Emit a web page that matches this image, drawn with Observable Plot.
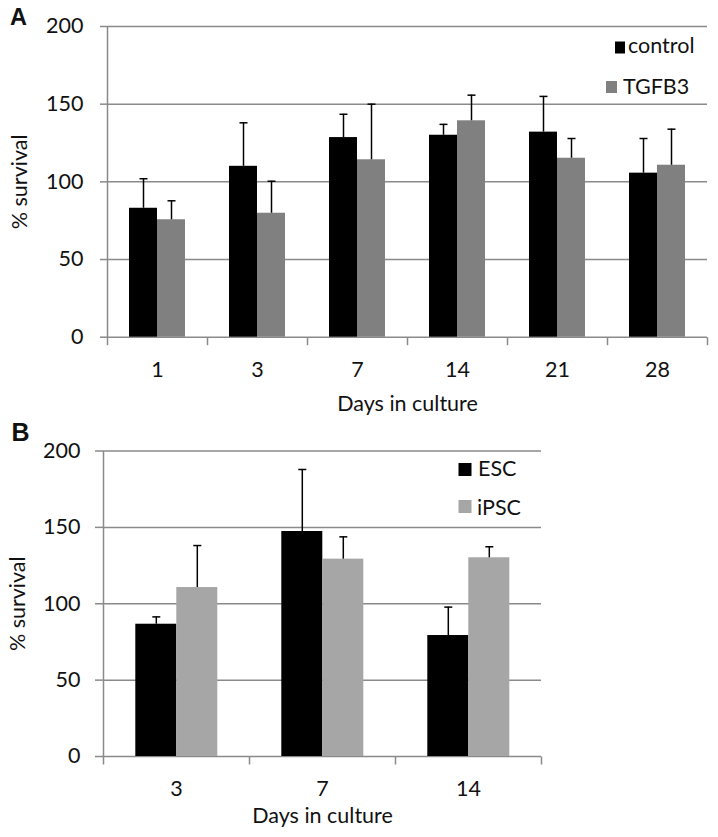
<!DOCTYPE html>
<html>
<head>
<meta charset="utf-8">
<script src="https://cdn.jsdelivr.net/npm/d3@7"></script>
<script src="https://cdn.jsdelivr.net/npm/@observablehq/plot@0.6"></script>
<style>
  html, body { margin: 0; padding: 0; background: #fff; }
  #wrap { position: relative; width: 718px; height: 837px; overflow: hidden; background: #fff; }
  #wrap > div, #wrap > svg { position: absolute; left: 0; }
</style>
</head>
<body>
<div id="wrap">
  <div id="panelA" style="top:0"></div>
  <div id="panelB" style="top:420px"></div>
</div>
<script>
// ---------- data ----------
const daysA = ["1", "3", "7", "14", "21", "28"];
const seriesA = ["control", "TGFB3"];
const controlMean = [83, 110, 128.5, 130, 132, 105.6];
const controlSd   = [19, 28, 15, 7, 23, 22.3];
const tgfb3Mean   = [75.6, 79.8, 114.2, 139.3, 115.2, 110.7];
const tgfb3Sd     = [12.2, 20.6, 35.8, 16.5, 12.7, 23.2];

const daysB = ["3", "7", "14"];
const seriesB = ["ESC", "iPSC"];
const escMean  = [86.6, 147.3, 79.2];
const escSd    = [4.8, 40.6, 18.6];
const ipscMean = [110.6, 129.2, 130.1];
const ipscSd   = [27.5, 14.6, 7.2];

const yTicks = [0, 50, 100, 150, 200];
const xTitle = "Days in culture";
const yTitle = "% survival";

// ---------- drawing ----------
const GRID = "#8a8a8a";
const FONT = "Lato, 'Open Sans', sans-serif";

function chart(cfg) {
  const {days, series, means, sds, colors, width, height, mt, mr, mb, ml,
         tickSize, tickPadding, xPad, labelOffsetX, labelOffsetY} = cfg;
  const rows = days.flatMap((day, i) => series.map((s, j) => ({
    day, series: s, mean: means[j][i], top: means[j][i] + sds[j][i]
  })));
  const innerH = height - mt - mb;
  const vTick = {draw(c) { c.moveTo(0, 0); c.lineTo(0, 8); }};
  const yLine = {draw(c) { c.moveTo(0, 0); c.lineTo(0, -innerH); }};
  const cap   = {draw(c) { c.moveTo(-4, 0); c.lineTo(4, 0); }};
  return Plot.plot({
    width, height,
    marginTop: mt, marginRight: mr, marginBottom: mb, marginLeft: ml,
    style: {fontFamily: FONT, fontSize: "21.5px", color: "#111", background: "#fff", overflow: "visible"},
    fx: {domain: days, padding: 0},
    x: {domain: series, paddingInner: 0, paddingOuter: 0.77, axis: null},
    y: {domain: [0, 200]},
    color: {domain: series, range: colors},
    marks: [
      Plot.ruleY(yTicks, {stroke: GRID, strokeWidth: 1.5}),
      Plot.axisY({ticks: yTicks, tickSize, tickPadding, stroke: GRID, strokeWidth: 1.5, fill: "#111",
                  label: yTitle, labelAnchor: "center", labelOffset: labelOffsetY, labelArrow: "none"}),
      Plot.dot([days[0]], {fx: d => d, frameAnchor: "bottom-left", symbol: yLine, stroke: GRID, strokeWidth: 1.5, fill: "none"}),
      Plot.dot(days, {fx: d => d, frameAnchor: "bottom-left", symbol: vTick, stroke: GRID, strokeWidth: 1.5, fill: "none"}),
      Plot.dot([days[days.length - 1]], {fx: d => d, frameAnchor: "bottom-right", symbol: vTick, stroke: GRID, strokeWidth: 1.5, fill: "none"}),
      Plot.barY(rows, {fx: "day", x: "series", y: "mean", fill: "series"}),
      Plot.ruleX(rows, {fx: "day", x: "series", y1: "mean", y2: "top", stroke: "#000", strokeWidth: 1.5}),
      Plot.dot(rows, {fx: "day", x: "series", y: "top", symbol: cap, stroke: "#000", strokeWidth: 1.5, fill: "none"}),
      Plot.axisFx({anchor: "bottom", tickSize: 0, tickPadding: xPad, fill: "#111",
                   label: xTitle, labelAnchor: "center", labelOffset: labelOffsetX})
    ]
  });
}

document.getElementById("panelA").append(chart({
  days: daysA, series: seriesA, means: [controlMean, tgfb3Mean], sds: [controlSd, tgfb3Sd],
  colors: ["#000000", "#808080"],
  width: 718, height: 420, mt: 26, mr: 9, mb: 83.3, ml: 104,
  tickSize: 7, tickPadding: 17, xPad: 25, labelOffsetX: 74, labelOffsetY: 96
}));

document.getElementById("panelB").append(chart({
  days: daysB, series: seriesB, means: [escMean, ipscMean], sds: [escSd, ipscSd],
  colors: ["#000000", "#a6a6a6"],
  width: 718, height: 417, mt: 30.5, mr: 175.7, mb: 81, ml: 102.7,
  tickSize: 8, tickPadding: 15, xPad: 24, labelOffsetX: 66, labelOffsetY: 94
}));

// ---------- panel letters and legends ----------
const overlay = d3.select("#wrap").append("svg")
  .attr("width", 718).attr("height", 837)
  .style("top", "0px").style("pointer-events", "none");

overlay.append("text").attr("x", 10).attr("y", 24.5)
  .attr("font-family", "'Liberation Sans', Arial, sans-serif").attr("font-weight", "bold")
  .attr("font-size", 23.5).attr("fill", "#111").text("A");
overlay.append("text").attr("x", 11.5).attr("y", 441)
  .attr("font-family", "'Liberation Sans', Arial, sans-serif").attr("font-weight", "bold")
  .attr("font-size", 25).attr("fill", "#111").text("B");

const legendItems = [
  {sx: 615, sy: 41.5, sw: 10, sh: 12, color: "#000000", tx: 628, ty: 53, label: seriesA[0]},
  {sx: 606, sy: 81, sw: 11, sh: 12, color: "#808080", tx: 623, ty: 93.5, label: seriesA[1]},
  {sx: 458.5, sy: 463, sw: 13, sh: 13, color: "#000000", tx: 478, ty: 476, label: seriesB[0]},
  {sx: 458.5, sy: 500, sw: 13, sh: 13, color: "#a6a6a6", tx: 477, ty: 515, label: seriesB[1]}
];
for (const it of legendItems) {
  overlay.append("rect").attr("x", it.sx).attr("y", it.sy).attr("width", it.sw).attr("height", it.sh).attr("fill", it.color);
  overlay.append("text").attr("x", it.tx).attr("y", it.ty).attr("font-family", FONT)
    .attr("font-size", 21.5).attr("fill", "#111").text(it.label);
}
</script>
</body>
</html>
